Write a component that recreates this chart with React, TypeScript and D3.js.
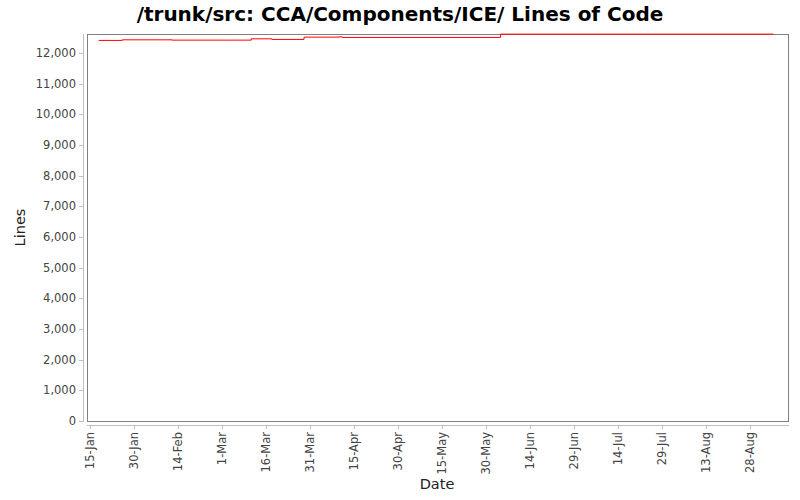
import React from "react";
import * as d3 from "d3";

const title = "/trunk/src: CCA/Components/ICE/ Lines of Code";
const dates = ["2007-01-18", "2007-01-26", "2007-02-12", "2007-03-04", "2007-03-11", "2007-03-18", "2007-03-29", "2007-04-10", "2007-04-11", "2007-06-04", "2007-09-05"];
const values = [12411, 12430, 12420, 12420, 12463, 12443, 12518, 12528, 12508, 12616, 12616];
const yTicks = [0, 1000, 2000, 3000, 4000, 5000, 6000, 7000, 8000, 9000, 10000, 11000, 12000];
const xTickStart = "2007-01-15";
const xTickCount = 16;
const xTickStepDays = 15;

const W = 800, H = 500;
const L = 87, R = 788, T = 34, B = 421;

const parse = d3.utcParse("%Y-%m-%d");

export default function App() {
  const x = d3.scaleUtc()
    .domain([Date.UTC(2007, 0, 14), Date.UTC(2007, 8, 10)])
    .range([L, R]);
  const y = d3.scaleLinear().domain([0, 12620]).range([B, T]);
  const pts = dates.map((d, i) => ({ d: parse(d)!, v: values[i] }));
  const line = d3.line<{ d: Date; v: number }>()
    .x((p) => x(p.d))
    .y((p) => y(p.v))
    .curve(d3.curveStepAfter);
  const start = parse(xTickStart)!;
  const xt = d3.range(xTickCount).map((i) => d3.utcDay.offset(start, i * xTickStepDays));
  const fmt = d3.utcFormat("%-d-%b");
  const font = "'DejaVu Sans', sans-serif";
  return (
    <div style={{ position: "absolute", left: 0, top: 0 }}>
      <svg width={W} height={H} style={{ display: "block", background: "#fff" }} fontFamily={font}>
        <text x={400} y={21} textAnchor="middle" fontSize={20} fontWeight="bold" fill="#000">{title}</text>
        <rect x={L + 0.5} y={T + 0.5} width={R - L} height={B - T} fill="#fff" stroke="#808080" strokeWidth={1} />
        <line x1={83.5} x2={83.5} y1={T} y2={B + 1} stroke="#c0c0c0" />
        {yTicks.map((t) => (
          <g key={t}>
            <line x1={79} x2={83} y1={Math.round(y(t)) + 0.5} y2={Math.round(y(t)) + 0.5} stroke="#c0c0c0" />
            <text x={76} y={y(t)} dy="0.35em" textAnchor="end" fontSize={11.5} fill="#444">{d3.format(",")(t)}</text>
          </g>
        ))}
        <text transform={`translate(25,${(T + B) / 2}) rotate(-90)`} textAnchor="middle" fontSize={14.5} fill="#222">Lines</text>
        <line x1={L} x2={R + 1} y1={425.5} y2={425.5} stroke="#c0c0c0" />
        {xt.map((t, i) => (
          <g key={i}>
            <line x1={Math.round(x(t)) + 0.5} x2={Math.round(x(t)) + 0.5} y1={425} y2={429} stroke="#c0c0c0" />
            <text transform={`translate(${x(t)},${432}) rotate(-90)`} dy="0.35em" textAnchor="end" fontSize={11.5} fill="#444">{fmt(t)}</text>
          </g>
        ))}
        <text x={437} y={489} textAnchor="middle" fontSize={14.5} fill="#222">Date</text>
        <path d={line(pts) || ""} fill="none" stroke="#ff0000" strokeWidth={1} />
      </svg>
    </div>
  );
}
